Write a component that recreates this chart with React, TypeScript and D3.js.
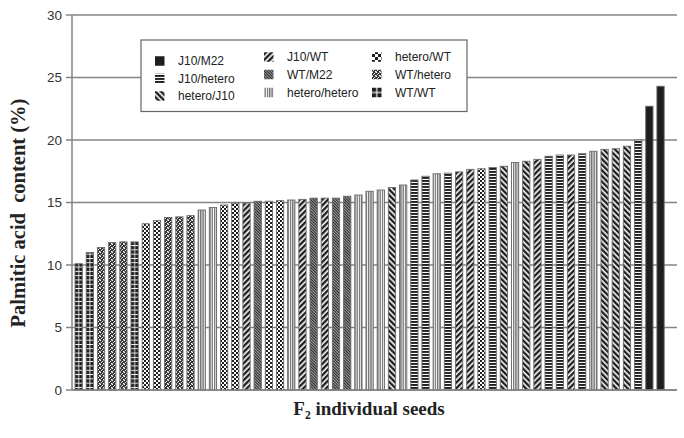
import React from "react";
import * as d3 from "d3";

const genotypes = ["J10/M22", "J10/hetero", "hetero/J10", "J10/WT", "WT/M22", "hetero/hetero", "hetero/WT", "WT/hetero", "WT/WT"];

const seedGenotypes = [
  "WT/WT", "WT/WT", "WT/hetero", "WT/hetero", "WT/hetero", "WT/WT", "hetero/WT", "hetero/WT", "WT/hetero", "WT/hetero",
  "WT/hetero", "hetero/hetero", "hetero/hetero", "hetero/WT", "hetero/WT", "J10/WT", "WT/M22", "hetero/WT", "hetero/WT", "hetero/hetero",
  "J10/WT", "WT/M22", "J10/WT", "WT/M22", "WT/M22", "hetero/hetero", "hetero/hetero", "hetero/hetero", "hetero/J10", "hetero/hetero",
  "J10/hetero", "J10/hetero", "hetero/hetero", "J10/hetero", "J10/WT", "J10/WT", "hetero/WT", "J10/hetero", "hetero/J10", "hetero/hetero",
  "hetero/J10", "J10/WT", "J10/hetero", "J10/hetero", "J10/WT", "J10/hetero", "hetero/hetero", "hetero/J10", "hetero/J10", "hetero/J10",
  "J10/hetero", "J10/M22", "J10/M22",
];

const seedValues = [
  10.1, 11.0, 11.4, 11.8, 11.85, 11.85, 13.3, 13.55, 13.8, 13.85,
  13.95, 14.4, 14.6, 14.8, 14.95, 14.95, 15.1, 15.1, 15.15, 15.2,
  15.25, 15.35, 15.35, 15.35, 15.5, 15.6, 15.9, 16.0, 16.2, 16.4,
  16.8, 17.1, 17.3, 17.35, 17.45, 17.65, 17.7, 17.8, 17.9, 18.2,
  18.3, 18.45, 18.7, 18.8, 18.8, 18.9, 19.1, 19.25, 19.3, 19.5,
  20.0, 22.7, 24.3,
];

const yTicks = [0, 5, 10, 15, 20, 25, 30];

const DARK = "#1e1e1e";
const GRID = "#858585";

const patternId: Record<string, string> = {
  "J10/M22": "p-solid",
  "J10/hetero": "p-hlines",
  "hetero/J10": "p-bdiag",
  "J10/WT": "p-fdiag",
  "WT/M22": "p-fine",
  "hetero/hetero": "p-vlines",
  "hetero/WT": "p-checker",
  "WT/hetero": "p-speckle",
  "WT/WT": "p-grid",
};

const legendPatternId: Record<string, string> = {
  ...patternId,
  "hetero/WT": "l-checker",
  "WT/WT": "l-grid",
};

function Patterns({ gridX, gridStep, gridMid }: { gridX: number; gridStep: number; gridMid: number }) {
  return (
    <defs>
      <pattern id="p-solid" patternUnits="userSpaceOnUse" width={4} height={4}>
        <rect width={4} height={4} fill={DARK} />
      </pattern>
      <pattern id="p-hlines" patternUnits="userSpaceOnUse" width={4} height={3}>
        <rect width={4} height={3} fill="#fff" />
        <rect width={4} height={1.9} fill={DARK} />
      </pattern>
      <pattern id="p-bdiag" patternUnits="userSpaceOnUse" width={4} height={4} patternTransform="rotate(-45)">
        <rect width={4} height={4} fill="#fff" />
        <rect width={2.4} height={4} fill={DARK} />
      </pattern>
      <pattern id="p-fdiag" patternUnits="userSpaceOnUse" width={4} height={4} patternTransform="rotate(45)">
        <rect width={4} height={4} fill="#fff" />
        <rect width={2.4} height={4} fill={DARK} />
      </pattern>
      <pattern id="p-fine" patternUnits="userSpaceOnUse" width={2} height={2} patternTransform="rotate(-45)">
        <rect width={2} height={2} fill="#aaa" />
        <rect width={1.1} height={2} fill="#2a2a2a" />
      </pattern>
      <pattern id="p-vlines" patternUnits="userSpaceOnUse" width={2.3} height={4}>
        <rect width={2.3} height={4} fill="#fff" />
        <rect width={1.4} height={4} fill="#777" />
      </pattern>
      <pattern id="p-checker" patternUnits="userSpaceOnUse" width={4} height={4}>
        <rect width={4} height={4} fill="#fff" />
        <rect width={2} height={2} fill={DARK} />
        <rect x={2} y={2} width={2} height={2} fill={DARK} />
      </pattern>
      <pattern id="l-checker" patternUnits="userSpaceOnUse" width={6} height={6}>
        <rect width={6} height={6} fill="#fff" />
        <rect width={3} height={3} fill={DARK} />
        <rect x={3} y={3} width={3} height={3} fill={DARK} />
      </pattern>
      <pattern id="p-speckle" patternUnits="userSpaceOnUse" width={4} height={4}>
        <rect width={4} height={4} fill="#333" />
        <rect x={0} y={0} width={1} height={1} fill="#fff" />
        <rect x={2} y={1} width={1} height={1} fill="#fff" />
        <rect x={1} y={2} width={1} height={1} fill="#ddd" />
        <rect x={3} y={3} width={1} height={1} fill="#fff" />
        <rect x={3} y={0} width={1} height={1} fill="#999" />
        <rect x={0} y={3} width={1} height={1} fill="#aaa" />
      </pattern>
      <pattern id="p-grid" patternUnits="userSpaceOnUse" x={gridX} width={gridStep} height={4.3}>
        <rect width={gridStep} height={4.3} fill={DARK} />
        <rect width={gridStep} height={0.9} fill="#fff" />
        <rect x={gridMid - 0.45} width={0.9} height={4.3} fill="#eee" />
      </pattern>
      <pattern id="l-grid" patternContentUnits="objectBoundingBox" width={1} height={1}>
        <rect width={1} height={1} fill={DARK} />
        <rect y={0.44} width={1} height={0.12} fill="#fff" />
        <rect x={0.44} width={0.12} height={1} fill="#fff" />
      </pattern>
    </defs>
  );
}

export default function App() {
  const W = 684;
  const H = 438;
  const axisX = 72;
  const gridEnd = 677;

  const y = d3.scaleLinear().domain([0, 30]).range([390, 15]);
  const x = d3
    .scaleBand<number>()
    .domain(d3.range(seedValues.length))
    .range([axisX, 667.2])
    .paddingInner(0.35)
    .paddingOuter(0.27);

  const legendCols = [
    { iconX: 155, textX: 178, rows: [61, 78.5, 96] },
    { iconX: 264, textX: 287, rows: [57, 74.5, 92.5] },
    { iconX: 372, textX: 395, rows: [57, 74.5, 92.5] },
  ];
  const iconSize = 9.5;

  return (
    <svg width={W} height={H} style={{ position: "absolute", left: 0, top: 0 }}>
      <Patterns gridX={x(0) as number} gridStep={x.step()} gridMid={x.bandwidth() / 2} />
      <rect width={W} height={H} fill="#fff" />

      {yTicks.map((t) => (
        <g key={t}>
          <line x1={axisX - 6} x2={gridEnd} y1={y(t)} y2={y(t)} stroke={GRID} strokeWidth={1.5} />
          <text
            x={62}
            y={y(t)}
            dy="0.35em"
            textAnchor="end"
            fontFamily="Liberation Sans, Arial, sans-serif"
            fontSize={13.5}
            fill="#333"
          >
            {t}
          </text>
        </g>
      ))}
      <line x1={axisX} x2={axisX} y1={y(30)} y2={y(0)} stroke={GRID} strokeWidth={1.5} />

      {seedValues.map((v, i) => (
        <rect
          key={i}
          x={x(i)}
          y={y(v)}
          width={x.bandwidth()}
          height={y(0) - y(v)}
          fill={`url(#${patternId[seedGenotypes[i]]})`}
          stroke="#6a6a6a"
          strokeWidth={0.9}
        />
      ))}
      <line x1={axisX} x2={gridEnd} y1={y(0)} y2={y(0)} stroke={GRID} strokeWidth={1.5} />

      <rect x={141} y={40} width={326} height={71.5} fill="#fff" stroke="#666" strokeWidth={1.2} />
      {genotypes.map((g, k) => {
        const col = legendCols[Math.floor(k / 3)];
        const cy = col.rows[k % 3];
        return (
          <g key={g}>
            <rect
              x={col.iconX}
              y={cy - iconSize / 2}
              width={iconSize}
              height={iconSize}
              fill={`url(#${legendPatternId[g]})`}
            />
            <text
              x={col.textX}
              y={cy}
              dy="0.35em"
              fontFamily="Liberation Sans, Arial, sans-serif"
              fontSize={12}
              fill="#222"
            >
              {g}
            </text>
          </g>
        );
      })}

      <text
        transform="translate(25,213) rotate(-90)"
        textAnchor="middle"
        fontFamily="Liberation Serif, Times New Roman, serif"
        fontWeight="bold"
        fontSize={20.5}
        fill="#222"
        style={{ whiteSpace: "pre" }}
      >
        {"Palmitic acid  content (%)"}
      </text>

      <text
        x={369}
        y={415}
        textAnchor="middle"
        fontFamily="Liberation Serif, Times New Roman, serif"
        fontWeight="bold"
        fontSize={19}
        fill="#222"
      >
        F<tspan fontSize={11.5} dy={4}>2</tspan>
        <tspan dy={-4}> individual seeds</tspan>
      </text>
    </svg>
  );
}
